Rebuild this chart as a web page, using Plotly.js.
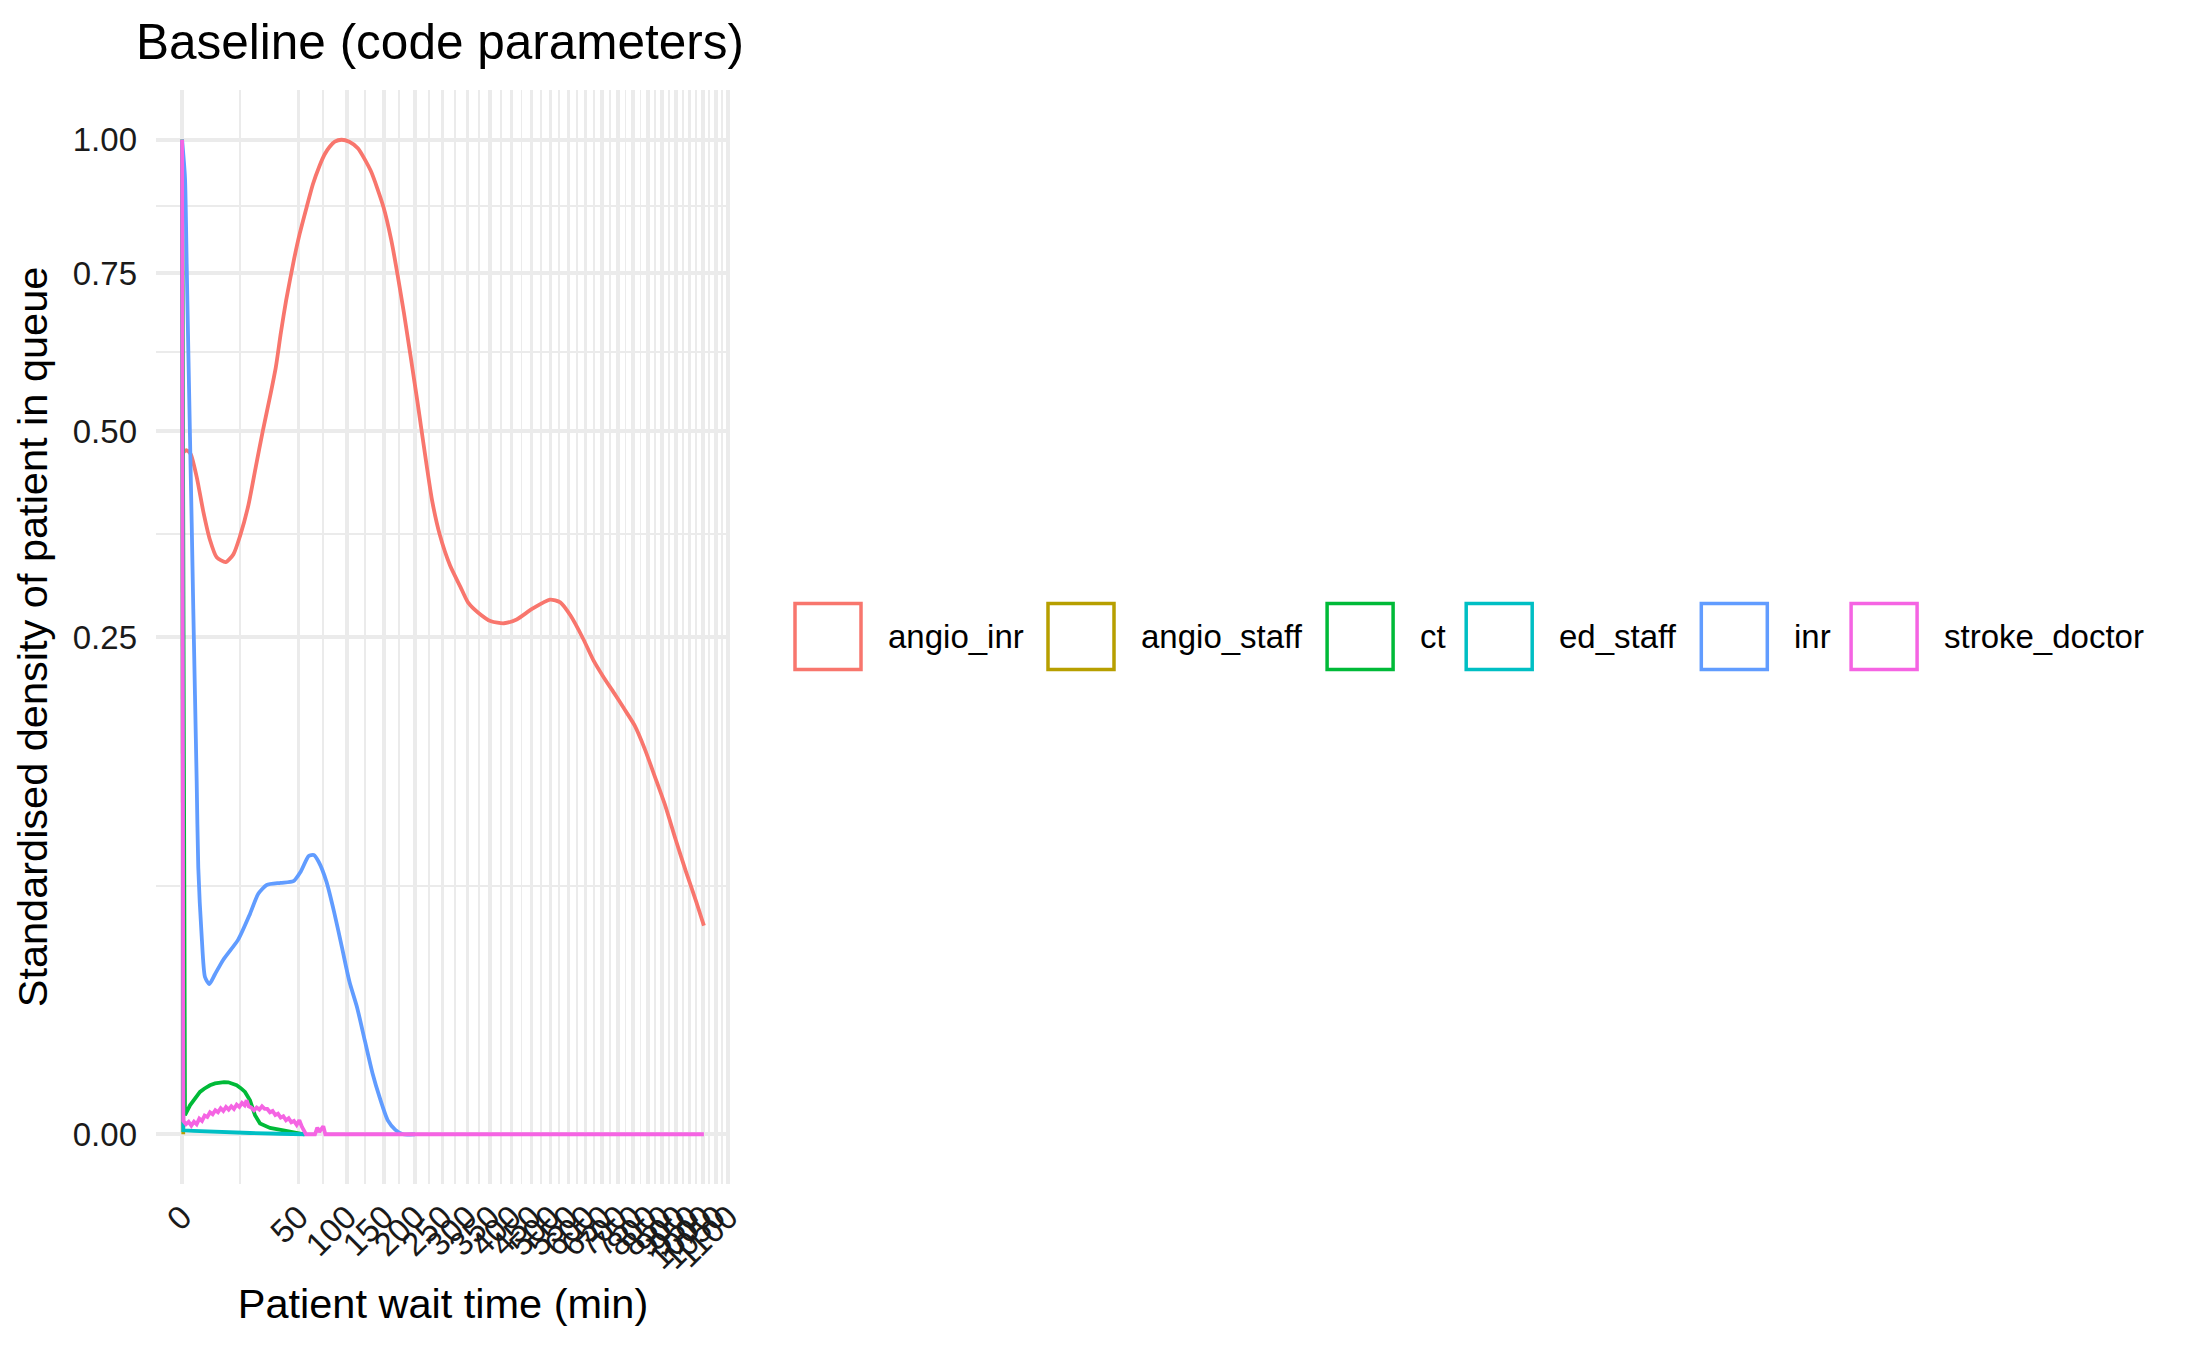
<!DOCTYPE html>
<html>
<head>
<meta charset="utf-8">
<script src="https://cdn.plot.ly/plotly-3.0.1.min.js"></script>
<style>
  html, body { margin: 0; padding: 0; background: #fff; }
  #chart { width: 2187px; height: 1350px; }
</style>
</head>
<body>
<div id="chart"></div>
<script>
// wait times (min) and standardised densities
var angioInrX = [0, 0.013, 0.078, 0.27, 0.785, 1.66, 2.87, 4.41, 7, 9.7, 12.4, 16.2, 20, 24, 28.5, 32.4, 36, 39.9, 46.1, 51, 57.2, 63, 69.6, 75, 80.3, 86, 93.7, 103, 113.9, 131.1, 149.6, 161.2, 181.6, 203.1, 230.5, 245, 264.8, 285.6, 301.4, 323.4, 352, 381.9, 412.8, 451.6, 499, 527.3, 556.3, 593.4, 624, 655.5, 687.8, 720.7, 755, 789.5, 824.7, 861, 897.8, 935.5, 973.9, 1004];
var angioInrY = [0.47, 0.471, 0.473, 0.468, 0.437, 0.392, 0.357, 0.3365, 0.331, 0.340, 0.362, 0.400, 0.45, 0.50, 0.55, 0.595, 0.65, 0.703, 0.773, 0.82, 0.869, 0.912, 0.948, 0.971, 0.986, 0.996, 1.0, 0.996, 0.983, 0.939, 0.869, 0.809, 0.681, 0.549, 0.406, 0.363, 0.327, 0.303, 0.286, 0.275, 0.266, 0.264, 0.268, 0.279, 0.289, 0.286, 0.272, 0.248, 0.227, 0.211, 0.197, 0.183, 0.169, 0.150, 0.129, 0.109, 0.088, 0.070, 0.055, 0.044];

var angioStaffX = [0, 0.005];
var angioStaffY = [1, 0];

var ctX = [0, 0.031, 0.23, 0.6, 1.18, 1.8, 2.87, 4, 5.3, 6.5, 7.88, 9.3, 10.97, 12.7, 14.6, 17.0, 19.6, 22.4, 28.5, 37.8, 48.4, 55];
var ctY = [1, 0.000365, 0.00085, 0.0013, 0.00181, 0.0021, 0.00243, 0.00262, 0.0027, 0.00274, 0.00273, 0.0026, 0.00243, 0.00215, 0.00181, 0.00117, 0.000365, 0.000116, 0.00004, 0.000016, 0.000001, 0];

var edStaffX = [0, 0.005, 0.5, 4.4, 17, 35, 55.7];
var edStaffY = [1, 0.000016, 0.000012, 0.0000053, 0.0000017, 0.0000003, 0];

var inrX = [0, 0.031, 0.078, 0.143, 0.23, 0.34, 0.462, 0.613, 0.785, 0.968, 1.42, 1.93, 2.73, 3.99, 6.26, 11.6, 17.0, 21.4, 26.4, 35.8, 45.7, 52.1, 59.1, 63.9, 69, 76.9, 85.3, 94.1, 103.3, 113, 123, 133.5, 144.5, 156, 167.7, 180, 200];
var inrY = [1.0, 0.925, 0.765, 0.621, 0.492, 0.378, 0.279, 0.195, 0.126, 0.0718, 0.0394, 0.025, 0.0228, 0.0259, 0.0308, 0.0383, 0.0491, 0.0585, 0.0628, 0.0639, 0.0648, 0.07, 0.0783, 0.0788, 0.0748, 0.0644, 0.0498, 0.0355, 0.0235, 0.0162, 0.00895, 0.00383, 0.00128, 0.000195, 0.00002, 0, 0];

var strokeDoctorX = [0, 0.0056, 0.056, 0.159, 0.314, 0.522, 0.783, 1.094, 1.46, 1.877, 2.347, 2.87, 3.445, 4.072, 4.752, 5.485, 6.265, 7.102, 7.998, 8.934, 9.929, 10.98, 12.08, 13.23, 14.43, 15.37, 16.34, 17.67, 19.06, 20.5, 21.99, 23.54, 25.13, 26.78, 28.48, 30.24, 32.04, 33.9, 35.82, 37.78, 39.8, 41.87, 43.98, 46.16, 48.39, 50.66, 52.99, 54.78, 56.59, 65.11, 67.42, 69.43, 71.46, 73.53, 75.63, 200, 400, 600, 800, 1004];
var strokeDoctorY = [1, 0.00018, 0.000101, 0.000154, 0.0000759, 0.000162, 0.000101, 0.000248, 0.00018, 0.000352, 0.000304, 0.000489, 0.000404, 0.000582, 0.000489, 0.000683, 0.00055, 0.000755, 0.000615, 0.000792, 0.000649, 0.00089, 0.000755, 0.000992, 0.00085, 0.001168, 0.000792, 0.000719, 0.000582, 0.000719, 0.000615, 0.000792, 0.000649, 0.000649, 0.000489, 0.00055, 0.000378, 0.000432, 0.000281, 0.000327, 0.000198, 0.000259, 0.000146, 0.00018, 0.000088, 0.000198, 0.0000543, 0.0000162, 0, 0, 0.0000449, 0.0000055, 0.000022, 0.0000647, 0, 0, 0, 0, 0, 0];

var groups = ['angio_inr', 'angio_staff', 'ct', 'ed_staff', 'inr', 'stroke_doctor'];
var colours = ['#F8766D', '#B79F00', '#00BA38', '#00BFC4', '#619CFF', '#F564E3'];

var xBreaks = [0, 50, 100, 150, 200, 250, 300, 350, 400, 450, 500, 550, 600, 650, 700, 750, 800, 850, 900, 950, 1000, 1050, 1100];
var yBreaks = [0, 0.25, 0.5, 0.75, 1];
var yLabels = ['0.00', '0.25', '0.50', '0.75', '1.00'];

// sqrt scale on both axes, like scale_*_sqrt
var sq = a => a.map(v => Math.sqrt(v));
var mids = a => a.slice(1).map((v, i) => (v + a[i]) / 2);

var series = [
  [angioInrX, angioInrY, 'spline'],
  [angioStaffX, angioStaffY, 'linear'],
  [ctX, ctY, 'linear'],
  [edStaffX, edStaffY, 'linear'],
  [inrX, inrY, 'spline'],
  [strokeDoctorX, strokeDoctorY, 'linear']
];

var traces = series.map((s, i) => ({
  x: sq(s[0]),
  y: sq(s[1]),
  name: groups[i],
  mode: 'lines',
  line: { color: colours[i], width: 3.8, shape: s[2], smoothing: 0.6 },
  showlegend: false,
  hoverinfo: 'skip'
}));

var xMax = Math.max(...series.map(s => Math.max(...s[0])));
var sxMax = Math.sqrt(xMax);
var sxTicks = sq(xBreaks);
var syTicks = sq(yBreaks);

// plot panel in pixels
var W = 2187, H = 1350;
var pL = 156, pR = 730, pT = 90, pB = 1184;
var px = v => (v - pL) / (pR - pL);
var py = v => (pB - v) / (pB - pT);

var grid = '#EBEBEB';
var font = 'Liberation Sans, Arial, sans-serif';

// legend drawn as outlined keys (ggplot density keys)
var keyLeft = [793.5, 1046.5, 1325.6, 1464.7, 1699.8, 1849.6];
var keySize = 69, keyTop = 602;
var shapes = [], annotations = [];
groups.forEach((g, i) => {
  shapes.push({
    type: 'rect', xref: 'paper', yref: 'paper',
    x0: px(keyLeft[i] + 1.5), x1: px(keyLeft[i] + keySize - 1.5),
    y0: py(keyTop + keySize - 1.5), y1: py(keyTop + 1.5),
    line: { color: colours[i], width: 3.5 }, fillcolor: 'rgba(0,0,0,0)'
  });
  annotations.push({
    xref: 'paper', yref: 'paper',
    x: px(keyLeft[i] + keySize + 23), y: py(keyTop + keySize / 2),
    xanchor: 'left', yanchor: 'middle', showarrow: false,
    text: g, font: { family: font, size: 33, color: '#000' }
  });
});

var layout = {
  width: W, height: H,
  margin: { l: pL, r: W - pR, t: pT, b: H - pB, pad: 0 },
  paper_bgcolor: '#fff',
  plot_bgcolor: '#fff',
  showlegend: false,
  hovermode: false,
  title: {
    text: 'Baseline (code parameters)',
    xref: 'container', yref: 'container',
    x: 136 / W, xanchor: 'left',
    y: 1 - 42 / H, yanchor: 'middle',
    font: { family: font, size: 49.5, color: '#000' }
  },
  xaxis: {
    range: [-0.05 * sxMax, 1.05 * sxMax],
    tickvals: sxTicks,
    ticktext: xBreaks.map(String),
    tickangle: -45,
    tickfont: { family: font, size: 33, color: '#1a1a1a' },
    ticks: '',
    ticklabelstandoff: 6,
    showgrid: true, gridcolor: grid, gridwidth: 3.6,
    minor: { tickvals: mids(sxTicks), showgrid: true, gridcolor: grid, gridwidth: 1.8, ticks: '' },
    zeroline: false, showline: false,
    title: { text: 'Patient wait time (min)', font: { family: font, size: 41.5, color: '#000' }, standoff: 13 }
  },
  yaxis: {
    range: [-0.05, 1.05],
    tickvals: syTicks,
    ticktext: yLabels,
    tickfont: { family: font, size: 33, color: '#1a1a1a' },
    ticks: '',
    ticklabelstandoff: 18,
    showgrid: true, gridcolor: grid, gridwidth: 3.6,
    minor: { tickvals: mids(syTicks), showgrid: true, gridcolor: grid, gridwidth: 1.8, ticks: '' },
    zeroline: false, showline: false,
    title: { text: 'Standardised density of patient in queue', font: { family: font, size: 41.5, color: '#000' }, standoff: 12 }
  },
  shapes: shapes,
  annotations: annotations
};

Plotly.newPlot('chart', traces, layout, { staticPlot: true, displayModeBar: false });
</script>
</body>
</html>
